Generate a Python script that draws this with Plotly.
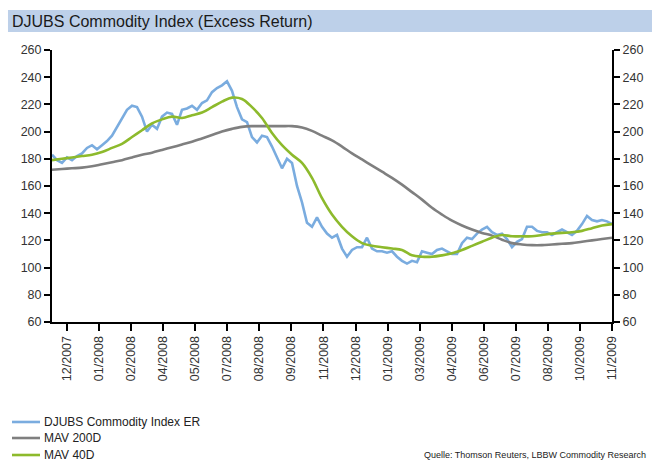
import plotly.graph_objects as go

# Weekly observations (index), Dec 2007 - Nov 2009
djubs_er = [183, 179, 177, 181, 179, 182, 184, 188, 190, 187, 190, 193, 197, 203, 210, 216, 219, 218, 211, 200,
            205, 202, 211, 214, 213, 205, 216, 217, 219, 216, 221, 223, 229, 232, 234, 237, 230, 218, 209, 207,
            196, 192, 197, 196, 189, 181, 173, 180, 177, 160, 148, 133, 130, 137, 130, 125, 122, 124, 114, 108,
            113, 115, 115, 122, 114, 112, 112, 111, 112, 108, 105, 103, 105, 104, 112, 111, 110, 113, 114, 112,
            110, 110, 118, 122, 121, 125, 128, 130, 126, 124, 125, 121, 115, 119, 121, 130, 130, 127, 126, 126,
            124, 126, 128, 126, 124, 127, 132, 138, 135, 134, 135, 134, 132]

# Moving averages, every second week
mav_40d = [179, 180, 181, 182, 183, 185, 188, 191, 196, 201, 206, 209, 211, 210, 212, 214, 218, 222, 225, 224,
           218, 210, 199, 190, 183, 177, 166, 151, 139, 130, 123, 118, 116, 115, 114, 113, 109, 108, 108, 109,
           110.5, 113, 116, 119, 122, 124, 123, 123, 123, 124, 125, 125.5, 126, 127, 129, 131, 132]
mav_200d = [172, 172.5, 173, 173.5, 174.5, 176, 177.5, 179, 181, 183, 184.5, 186.5, 188.5, 190.5, 192.5, 195,
            197.5, 200, 202, 203.5, 204, 204, 204, 204, 204, 203, 200.5, 197, 193.5, 189, 184, 179.5, 175, 170.5,
            166, 161, 155.5, 150, 144, 139, 134.5, 131, 128, 125.5, 123.5, 120.5, 118, 117, 116.5, 116.5, 117,
            117.5, 118, 119, 120, 121, 122]

series_names = ["DJUBS Commodity Index ER", "MAV 200D", "MAV 40D"]
tick_labels = ["12/2007", "01/2008", "02/2008", "04/2008", "05/2008", "07/2008", "08/2008", "09/2008",
               "11/2008", "12/2008", "01/2009", "03/2009", "04/2009", "06/2009", "07/2009", "08/2009",
               "10/2009", "11/2009"]
y_ticks = [60, 80, 100, 120, 140, 160, 180, 200, 220, 240, 260]

x_er = list(range(len(djubs_er)))
x_ma = [2 * j for j in range(len(mav_40d))]
n_weeks = len(djubs_er) - 1
tick_pos = [3 + k * (n_weeks - 3) / (len(tick_labels) - 1) for k in range(len(tick_labels))]

BLUE = "#7aacdf"
GREY = "#7f7f7f"
GREEN = "#8dba2c"
COLORS = [BLUE, GREY, GREEN]
FONT = "Liberation Sans"

fig = go.Figure()
fig.add_trace(go.Scatter(x=x_er, y=djubs_er, mode="lines", name=series_names[0],
                         line=dict(color=BLUE, width=2.6)))
fig.add_trace(go.Scatter(x=x_ma, y=mav_200d, mode="lines", name=series_names[1],
                         line=dict(color=GREY, width=2.6, shape="spline")))
fig.add_trace(go.Scatter(x=x_ma, y=mav_40d, mode="lines", name=series_names[2],
                         line=dict(color=GREEN, width=2.6, shape="spline")))
# invisible trace to enable the mirrored right axis
fig.add_trace(go.Scatter(x=[0], y=[60], yaxis="y2", mode="lines", showlegend=False,
                         hoverinfo="skip", line=dict(color="rgba(0,0,0,0)")))

axis_font = dict(family=FONT, size=12.5, color="#333333")

shapes = [dict(type="rect", xref="paper", yref="paper", x0=-0.0786, x1=1.0714, y0=1.066, y1=1.147,
               fillcolor="#bdd0e9", line=dict(width=0), layer="below")]
annotations = [
    dict(text="DJUBS Commodity Index (Excess Return)", xref="paper", yref="paper",
         x=-0.075, y=1.1065, xanchor="left", yanchor="middle", showarrow=False,
         font=dict(family=FONT, size=16, color="#1a1a1a")),
    dict(text="Quelle: Thomson Reuters, LBBW Commodity Research", xref="paper", yref="paper",
         x=1.064, y=-0.489, xanchor="right", yanchor="middle", showarrow=False,
         font=dict(family=FONT, size=9, color="#222222")),
]
# legend (drawn in paper space below the plot)
legend_y = [-0.3676, -0.4265, -0.489]
for name, col, ly in zip(series_names, COLORS, legend_y):
    shapes.append(dict(type="line", xref="paper", yref="paper", x0=-0.0714, x1=-0.0214, y0=ly, y1=ly,
                       line=dict(color=col, width=2.6)))
    annotations.append(dict(text=name, xref="paper", yref="paper", x=-0.017, y=ly,
                            xanchor="left", yanchor="middle", showarrow=False,
                            font=dict(family=FONT, size=12, color="#222222")))

fig.update_layout(
    width=652, height=467,
    margin=dict(l=52, r=40, t=50, b=145),
    paper_bgcolor="white", plot_bgcolor="white",
    font=dict(family=FONT, size=12, color="#333333"),
    showlegend=False,
    xaxis=dict(range=[0, n_weeks], tickmode="array", tickvals=tick_pos, ticktext=tick_labels,
               tickangle=-90, ticks="outside", ticklen=7, tickwidth=2, tickcolor="black",
               showline=True, linecolor="black", linewidth=2, showgrid=False, zeroline=False,
               tickfont=axis_font, automargin=False),
    yaxis=dict(range=[60, 260], tickmode="array", tickvals=y_ticks, ticks="outside", ticklen=6,
               tickwidth=2, tickcolor="black", showline=True, linecolor="black", linewidth=2,
               showgrid=False, zeroline=False, tickfont=axis_font, automargin=False),
    yaxis2=dict(range=[60, 260], tickmode="array", tickvals=y_ticks, overlaying="y", side="right",
                ticks="outside", ticklen=6, tickwidth=2, tickcolor="black", showline=True,
                linecolor="black", linewidth=2, showgrid=False, zeroline=False, tickfont=axis_font,
                automargin=False),
    shapes=shapes,
    annotations=annotations,
)

fig.write_html("out.html", config={"displayModeBar": False},
               post_script="document.body.style.margin='0px';document.body.style.overflow='hidden';")
